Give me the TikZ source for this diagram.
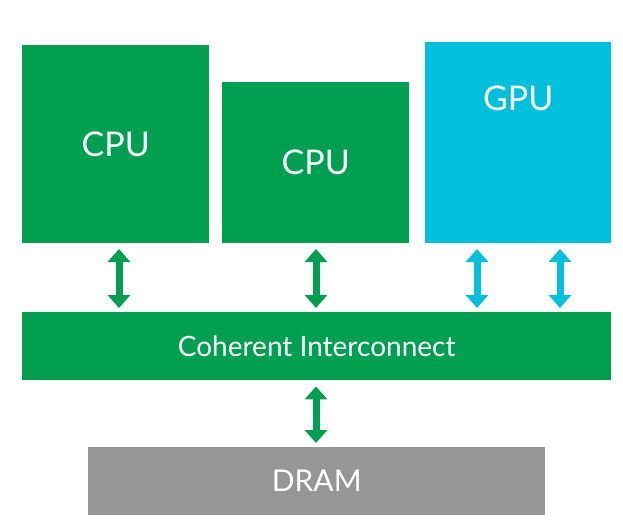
\documentclass[tikz,border=0pt]{standalone}
\usepackage{fontspec}
\setmainfont{Lato}
\usetikzlibrary{arrows.meta}
\definecolor{armgreen}{RGB}{0,160,80}
\definecolor{armcyan}{RGB}{0,192,222}
\definecolor{armgray}{RGB}{150,150,150}
\begin{document}
\begin{tikzpicture}[x=1pt,y=-1pt,
  blk/.style={fill=#1,text=white,inner sep=0pt,anchor=north west},
  link/.style={draw=#1,line width=7pt,
    {Triangle[width=22pt,length=13pt]}-{Triangle[width=22pt,length=13pt]},
    shorten <=6pt,shorten >=4pt}]
\useasboundingbox (0,0) rectangle (623,528);
\node[blk=armgreen,minimum width=187pt,minimum height=198pt,font=\fontsize{34}{34}\selectfont] (cpu1) at (22,45) {CPU};
\node[blk=armgreen,minimum width=187pt,minimum height=161pt,font=\fontsize{34}{34}\selectfont] (cpu2) at (222,82) {CPU};
\node[blk=armcyan,minimum width=186pt,minimum height=201pt,font=\fontsize{34}{34}\selectfont,text depth=90pt] (gpu) at (425,42) {GPU};
\node[blk=armgreen,minimum width=589pt,minimum height=68pt,font=\fontsize{28}{28}\selectfont] (ic) at (22,312) {Coherent Interconnect};
\node[blk=armgray,minimum width=457pt,minimum height=68pt,font=\fontsize{30}{30}\selectfont] (dram) at (88,447) {DRAM};
\coordinate (g1) at (477,243);
\coordinate (g2) at (560,243);
\coordinate (c1) at (119,243);
\coordinate (c2) at (316,243);
\draw[link=armgreen] (c1) -- (c1 |- ic.north);
\draw[link=armgreen] (c2) -- (c2 |- ic.north);
\draw[link=armcyan] (g1) -- (g1 |- ic.north);
\draw[link=armcyan] (g2) -- (g2 |- ic.north);
\draw[link=armgreen] (c2 |- ic.south) -- (c2 |- dram.north);
\end{tikzpicture}
\end{document}
